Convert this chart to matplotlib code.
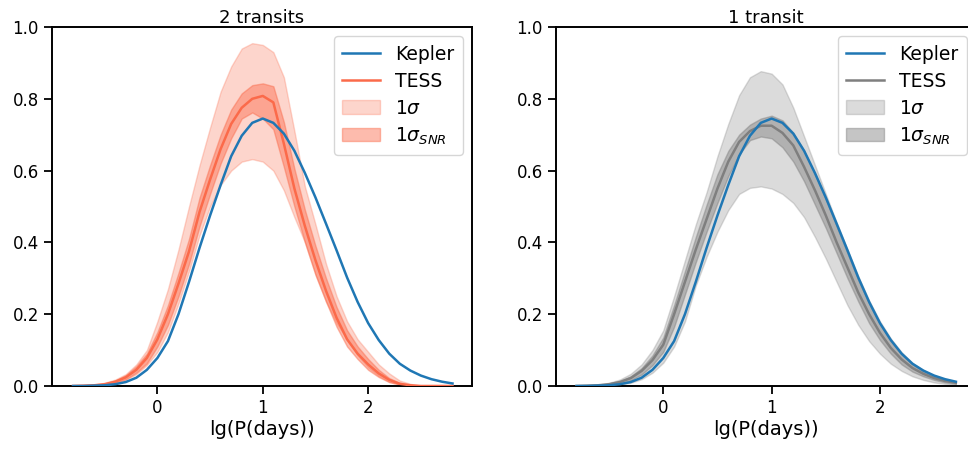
import numpy as np
import matplotlib
matplotlib.use("Agg")
import matplotlib.pyplot as plt

# lg(P) grid, step 0.1
lgp = np.round(np.arange(-0.8, 2.81, 0.1), 2)

kepler = [0.000, 0.000, 0.001, 0.002, 0.005, 0.011, 0.023, 0.045, 0.078, 0.125,
          0.200, 0.290, 0.385, 0.475, 0.560, 0.640, 0.697, 0.733, 0.745, 0.733,
          0.703, 0.655, 0.593, 0.525, 0.452, 0.378, 0.302, 0.234, 0.175, 0.128,
          0.090, 0.062, 0.043, 0.029, 0.019, 0.012, 0.007]

# 2 transits
tess2 = [0.000, 0.001, 0.002, 0.005, 0.012, 0.024, 0.045, 0.078, 0.130, 0.200,
         0.285, 0.375, 0.485, 0.575, 0.660, 0.730, 0.775, 0.800, 0.808, 0.790,
         0.675, 0.550, 0.445, 0.350, 0.265, 0.190, 0.130, 0.090, 0.060, 0.035,
         0.017, 0.006, 0.002, 0.000, 0.000, 0.000, 0.000]
tess2_lo = [0.000, 0.000, 0.001, 0.003, 0.008, 0.017, 0.033, 0.058, 0.095, 0.150,
            0.230, 0.320, 0.420, 0.500, 0.560, 0.600, 0.625, 0.632, 0.625, 0.600,
            0.545, 0.470, 0.400, 0.310, 0.235, 0.175, 0.130, 0.085, 0.052, 0.028,
            0.011, 0.004, 0.001, 0.000, 0.000, 0.000, 0.000]
tess2_hi = [0.000, 0.002, 0.004, 0.009, 0.018, 0.033, 0.060, 0.100, 0.180, 0.270,
            0.380, 0.500, 0.615, 0.720, 0.820, 0.890, 0.940, 0.955, 0.950, 0.930,
            0.860, 0.710, 0.555, 0.450, 0.340, 0.250, 0.180, 0.130, 0.095, 0.060,
            0.035, 0.015, 0.006, 0.001, 0.000, 0.000, 0.000]
tess2_snr_lo = [0.000, 0.000, 0.001, 0.003, 0.009, 0.019, 0.037, 0.063, 0.110, 0.170,
                0.250, 0.340, 0.445, 0.535, 0.620, 0.690, 0.745, 0.762, 0.745, 0.715,
                0.610, 0.500, 0.400, 0.310, 0.235, 0.165, 0.110, 0.075, 0.045, 0.025,
                0.011, 0.004, 0.001, 0.000, 0.000, 0.000, 0.000]
tess2_snr_hi = [0.000, 0.001, 0.003, 0.007, 0.015, 0.030, 0.055, 0.090, 0.150, 0.225,
                0.315, 0.410, 0.525, 0.615, 0.700, 0.770, 0.815, 0.838, 0.843, 0.835,
                0.735, 0.605, 0.490, 0.390, 0.300, 0.220, 0.155, 0.110, 0.075, 0.045,
                0.022, 0.009, 0.003, 0.000, 0.000, 0.000, 0.000]

# 1 transit (grid stops at 2.7)
tess1 = [0.000, 0.001, 0.002, 0.005, 0.011, 0.022, 0.042, 0.072, 0.115, 0.200,
         0.290, 0.380, 0.465, 0.550, 0.625, 0.680, 0.710, 0.725, 0.725, 0.705,
         0.670, 0.610, 0.545, 0.475, 0.400, 0.330, 0.260, 0.200, 0.148, 0.106,
         0.074, 0.050, 0.034, 0.022, 0.014, 0.009]
tess1_lo = [0.000, 0.000, 0.001, 0.002, 0.004, 0.009, 0.019, 0.037, 0.065, 0.110,
            0.180, 0.280, 0.360, 0.430, 0.490, 0.535, 0.552, 0.556, 0.550, 0.535,
            0.510, 0.470, 0.415, 0.355, 0.290, 0.225, 0.170, 0.125, 0.090, 0.062,
            0.042, 0.027, 0.017, 0.010, 0.006, 0.003]
tess1_hi = [0.001, 0.002, 0.004, 0.009, 0.018, 0.034, 0.060, 0.100, 0.155, 0.250,
            0.350, 0.450, 0.540, 0.640, 0.730, 0.810, 0.860, 0.877, 0.870, 0.840,
            0.775, 0.695, 0.615, 0.535, 0.455, 0.380, 0.305, 0.238, 0.180, 0.132,
            0.094, 0.064, 0.044, 0.029, 0.018, 0.011]
tess1_snr_lo = [0.000, 0.000, 0.001, 0.003, 0.007, 0.016, 0.032, 0.058, 0.095, 0.165,
                0.255, 0.345, 0.430, 0.510, 0.585, 0.645, 0.685, 0.695, 0.690, 0.665,
                0.625, 0.570, 0.505, 0.440, 0.370, 0.300, 0.235, 0.175, 0.128, 0.090,
                0.060, 0.040, 0.027, 0.017, 0.010, 0.006]
tess1_snr_hi = [0.000, 0.001, 0.003, 0.007, 0.014, 0.027, 0.050, 0.085, 0.135, 0.225,
                0.320, 0.415, 0.505, 0.590, 0.655, 0.700, 0.728, 0.745, 0.753, 0.740,
                0.705, 0.655, 0.590, 0.520, 0.445, 0.370, 0.295, 0.230, 0.172, 0.125,
                0.088, 0.060, 0.040, 0.026, 0.016, 0.010]

KEPLER_C = "#1f77b4"
RED = "#fb6a4a"
GRAY = "#7f7f7f"

plt.rcParams["font.family"] = "DejaVu Sans"
plt.rcParams["mathtext.fontset"] = "dejavusans"

fig = plt.figure(figsize=(9.68, 4.51), dpi=100)
ax1 = fig.add_axes([52 / 968, 1 - 386 / 451, 420 / 968, 359 / 451])
ax2 = fig.add_axes([556 / 968, 1 - 386 / 451, 420 / 968, 359 / 451])


def draw_panel(ax, x, kep, mean, lo, hi, snr_lo, snr_hi, color, title, xlim):
    ax.plot(x, kep, color=KEPLER_C, lw=1.8, label="Kepler", zorder=4,
            solid_joinstyle="round")
    ax.plot(x, mean, color=color, lw=1.8, label="TESS", zorder=3,
            solid_joinstyle="round")
    ax.fill_between(x, lo, hi, color=color, alpha=0.28, lw=1, label=r"$1\sigma$")
    ax.fill_between(x, snr_lo, snr_hi, color=color, alpha=0.45, lw=1,
                    label=r"$1\sigma_{SNR}$")
    ax.set_xlim(*xlim)
    ax.set_ylim(0, 1.0)
    ax.set_xticks([0, 1, 2])
    ax.set_yticks(np.arange(0, 1.01, 0.2))
    ax.set_yticklabels([f"{v:.1f}" for v in np.arange(0, 1.01, 0.2)])
    ax.set_title(title, fontsize=13, pad=3)
    ax.set_xlabel("lg(P(days))", fontsize=14, labelpad=2)
    ax.tick_params(labelsize=12, length=6, width=1.3, direction="out")
    for s in ax.spines.values():
        s.set_linewidth(1.4)
    ax.legend(loc="upper right", fontsize=13.5, handlelength=2.0,
              labelspacing=0.42, borderpad=0.45, framealpha=0.8)


draw_panel(ax1, lgp, kepler, tess2, tess2_lo, tess2_hi, tess2_snr_lo,
           tess2_snr_hi, RED, "2 transits", (-1.0, 2.985))
n1 = len(tess1)
draw_panel(ax2, lgp[:n1], kepler[:n1], tess1, tess1_lo, tess1_hi, tess1_snr_lo,
           tess1_snr_hi, GRAY, "1 transit", (-0.99, 2.886))

fig.savefig("out.png", dpi=100)
